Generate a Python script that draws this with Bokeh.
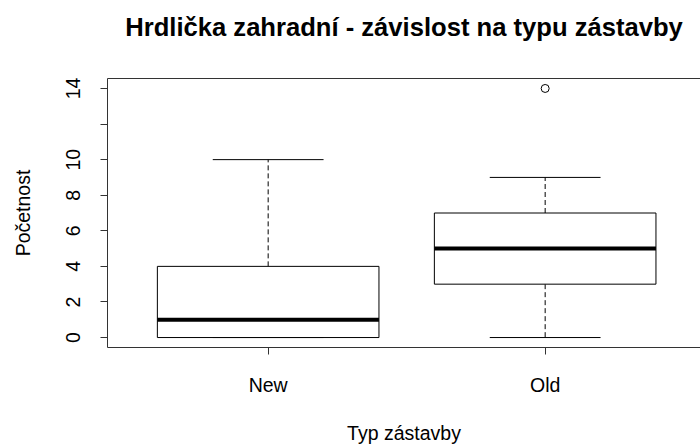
from bokeh.plotting import figure
from bokeh.models import Range1d, FixedTicker, LinearAxis
from bokeh.embed import file_html
from bokeh.resources import INLINE

# --- data (box-plot summary) ---
categories = ["New", "Old"]
positions = [1, 2]
lower_whisker = [0, 0]
q1 = [0, 3]
median = [1, 5]
q3 = [4, 7]
upper_whisker = [10, 9]
outlier_x = [2]
outlier_y = [14]
y_ticks = [0, 2, 4, 6, 8, 10, 12, 14]
title_text = "Hrdlička zahradní - závislost na typu zástavby"

FONT = "Liberation Sans"
AX = "#333333"

p = figure(width=700, height=446, output_backend="svg", toolbar_location=None,
           x_range=Range1d(0.42, 0.42 + 593 / 277), y_range=Range1d(-0.56, 14.56),
           min_border_left=107, min_border_right=0, min_border_top=78, min_border_bottom=99,
           title=None)
p.outline_line_color = None
p.grid.visible = False
p.background_fill_color = "white"
p.border_fill_color = "white"

# whiskers
p.segment(x0=positions, x1=positions, y0=q3, y1=upper_whisker,
          line_color="black", line_width=1, line_dash="5 3")
p.segment(x0=positions, x1=positions, y0=q1, y1=lower_whisker,
          line_color="black", line_width=1, line_dash="5 3")
cap_l = [c - 0.2 for c in positions]
cap_r = [c + 0.2 for c in positions]
p.segment(x0=cap_l, x1=cap_r, y0=upper_whisker, y1=upper_whisker, line_color="black", line_width=1)
p.segment(x0=cap_l, x1=cap_r, y0=lower_whisker, y1=lower_whisker, line_color="black", line_width=1)
# boxes
p.vbar(x=positions, width=0.8, bottom=q1, top=q3, fill_color="white",
       line_color="black", line_width=1)
box_l = [c - 0.4 for c in positions]
box_r = [c + 0.4 for c in positions]
p.segment(x0=box_l, x1=box_r, y0=median, y1=median, line_color="black", line_width=4)
# outliers
p.scatter(x=outlier_x, y=outlier_y, marker="circle", size=8, fill_color=None,
          line_color="black", line_width=1)

# axes
xa = p.xaxis[0]
xa.ticker = FixedTicker(ticks=positions)
xa.major_label_overrides = {pos: lab for pos, lab in zip(positions, categories)}
xa.minor_tick_line_color = None
xa.major_tick_in = 0
xa.major_tick_out = 7
xa.major_label_standoff = 19
xa.axis_label = "Typ zástavby"
xa.axis_label_standoff = 23

ya = p.yaxis[0]
ya.ticker = FixedTicker(ticks=y_ticks)
ya.major_label_overrides = {12: ""}
ya.major_label_orientation = "vertical"
ya.minor_tick_line_color = None
ya.major_tick_in = 0
ya.major_tick_out = 7
ya.major_label_standoff = 20
ya.axis_label = "Početnost"
ya.axis_label_standoff = 30

for ax in (xa, ya):
    ax.axis_line_color = AX
    ax.major_tick_line_color = AX
    ax.major_label_text_font = FONT
    ax.major_label_text_font_size = "19.5px"
    ax.major_label_text_color = "black"
    ax.axis_label_text_font = FONT
    ax.axis_label_text_font_size = "19.5px"
    ax.axis_label_text_font_style = "normal"
    ax.axis_label_text_color = "black"

# top border of the box, carrying the chart title as its label
top = LinearAxis(ticker=FixedTicker(ticks=[]), major_label_text_font_size="0px",
                 major_tick_line_color=None, minor_tick_line_color=None,
                 major_tick_out=0, major_tick_in=0, axis_line_color=AX,
                 major_label_standoff=0,
                 axis_label=title_text, axis_label_standoff=38,
                 axis_label_text_font=FONT, axis_label_text_font_size="25.6px",
                 axis_label_text_font_style="bold", axis_label_text_color="black")
p.add_layout(top, "above")

open("out.html", "w").write(file_html(p, INLINE))
